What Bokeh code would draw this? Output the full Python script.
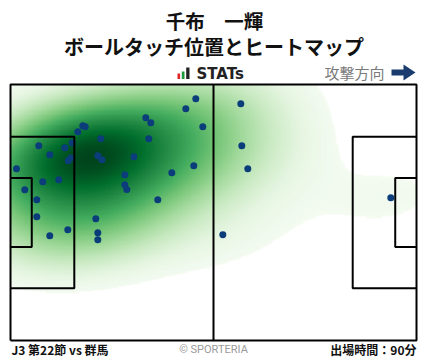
import numpy as np
from bokeh.plotting import figure
from bokeh.models import Range1d, LinearColorMapper
from bokeh.palettes import Greens256
from bokeh.embed import file_html
from bokeh.resources import INLINE
from bokeh.core.properties import value

# ---- data: ball touch positions (metres; x toward attacking direction, y from bottom touchline)
touch_x = [47.92, 45.34, 49.73, 34.99, 36.28, 35.77, 18.70, 19.32, 17.41, 23.35,
           7.32, 10.16, 14.04, 15.96, 15.59, 14.92, 22.58, 23.66, 31.89, 1.55,
           8.35, 12.49, 29.56, 29.56, 30.08, 41.72, 47.40, 3.70, 6.80, 38.09,
           6.80, 10.16, 14.82, 22.06, 22.58, 22.58, 59.56, 59.82, 61.37, 98.35,
           54.91]
touch_y = [64.20, 61.55, 56.77, 59.16, 57.83, 53.58, 57.03, 56.76, 55.44, 53.58,
           51.72, 49.33, 51.19, 52.51, 48.48, 47.76, 49.09, 48.00, 48.80, 45.61,
           42.15, 42.71, 44.04, 41.38, 40.14, 44.55, 46.40, 40.03, 37.37, 37.37,
           32.86, 27.81, 29.40, 32.33, 28.61, 26.75, 62.87, 51.72, 45.61, 37.91,
           28.08]

title_lines = ["千布　一輝", "ボールタッチ位置とヒートマップ"]
footer_left = "J3 第22節 vs 群馬"
footer_center = "© SPORTERIA"
footer_right = "出場時間：90分"
direction_label = "攻撃方向"
logo_label = "STATs"

PITCH_L, PITCH_W = 105.0, 68.0

# ---- layout helpers (page pixels -> data units)
SX = 406 / PITCH_L
SY = 256 / PITCH_W
def dx(px):
    return (px - 10) / SX
def dy(py):
    return (340 - py) / SY

W, H = 428, 359
p = figure(width=W, height=H, output_backend="svg", toolbar_location=None,
           x_range=Range1d(dx(0), dx(W)), y_range=Range1d(dy(H), dy(0)),
           x_axis_location=None, y_axis_location=None, min_border=0)
p.grid.visible = False
p.outline_line_color = None
p.background_fill_color = "white"

# ---- KDE heatmap (gaussian, Scott's rule, full covariance)
pts = np.vstack([touch_x, touch_y])
n = pts.shape[1]
factor = n ** (-1.0 / 6.0)
cov = np.cov(pts) * factor ** 2
scale = np.diag([1.41, 1.55])
cov = scale @ cov @ scale
inv = np.linalg.inv(cov)
gx = np.linspace(0, PITCH_L, 316)
gy = np.linspace(0, PITCH_W, 205)
GX, GY = np.meshgrid(gx, gy)
dens = np.zeros_like(GX)
for xi, yi in zip(touch_x, touch_y):
    ddx = GX - xi
    ddy = GY - yi
    q = inv[0, 0] * ddx * ddx + 2 * inv[0, 1] * ddx * ddy + inv[1, 1] * ddy * ddy
    dens += np.exp(-0.5 * q)
dens = dens / dens.max()
thr = 0.05
dens_img = np.where(dens < thr, np.nan, dens ** 0.8)
pal = list(reversed(Greens256))[6:]
mapper = LinearColorMapper(palette=pal, low=thr ** 0.8, high=1.0, nan_color="rgba(255,255,255,0)")
p.image(image=[dens_img], x=0, y=0, dw=PITCH_L, dh=PITCH_W, color_mapper=mapper)

# ---- touch points
p.scatter(touch_x, touch_y, size=7, fill_color="#0b3d7a", line_color=None)

# ---- pitch lines
lc, lw = "black", 2
p.line([0, PITCH_L, PITCH_L, 0, 0], [0, 0, PITCH_W, PITCH_W, 0], line_color=lc, line_width=lw)
p.line([PITCH_L / 2, PITCH_L / 2], [0, PITCH_W], line_color=lc, line_width=lw)
pb_d, pb_w = 16.5, 40.3
ga_d, ga_w = 5.5, 18.3
cy = PITCH_W / 2
for depth, width in [(pb_d, pb_w), (ga_d, ga_w)]:
    p.line([0, depth, depth, 0], [cy - width / 2, cy - width / 2, cy + width / 2, cy + width / 2],
           line_color=lc, line_width=lw)
    p.line([PITCH_L, PITCH_L - depth, PITCH_L - depth, PITCH_L],
           [cy - width / 2, cy - width / 2, cy + width / 2, cy + width / 2],
           line_color=lc, line_width=lw)

# ---- titles
jp = value("Noto Sans CJK JP")
p.text(x=[dx(214)], y=[dy(20)], text=[title_lines[0]], text_font=jp, text_font_style="bold",
       text_font_size="19.5px", text_align="center", text_baseline="middle", text_color="#111111")
p.text(x=[dx(213.5)], y=[dy(46)], text=[title_lines[1]], text_font=jp, text_font_style="bold",
       text_font_size="20px", text_align="center", text_baseline="middle", text_color="#111111")

# STATs logo
p.quad(left=[dx(177), dx(181.3), dx(185.7)], right=[dx(179.6), dx(184), dx(189)],
       bottom=[dy(78.5), dy(78.5), dy(78.5)], top=[dy(73), dy(71), dy(67)],
       fill_color=["#e0262b", "#1f9a3a", "#222222"], line_color=None)
p.text(x=[dx(196)], y=[dy(73.5)], text=[logo_label], text_font=value("DejaVu Sans"), text_font_style="bold",
       text_font_size="15px", text_align="left", text_baseline="middle", text_color="#222222")

# attack direction
p.text(x=[dx(384)], y=[dy(72)], text=[direction_label], text_font=jp,
       text_font_size="15px", text_align="right", text_baseline="middle", text_color="#7a7a7a")
p.patch(x=[dx(391), dx(403), dx(403), dx(415), dx(403), dx(403), dx(391)],
        y=[dy(69), dy(69), dy(64), dy(72), dy(80), dy(75), dy(75)],
        fill_color="#1b3c6e", line_color=None)

# footer
p.text(x=[dx(11)], y=[dy(349)], text=[footer_left], text_font=jp, text_font_style="bold",
       text_font_size="12px", text_align="left", text_baseline="middle", text_color="#111111")
p.text(x=[dx(213)], y=[dy(349)], text=[footer_center], text_font=value("Roboto"),
       text_font_size="11px", text_align="center", text_baseline="middle", text_color="#9a9a9a")
p.text(x=[dx(416)], y=[dy(349)], text=[footer_right], text_font=jp, text_font_style="bold",
       text_font_size="12px", text_align="right", text_baseline="middle", text_color="#111111")

open("out.html", "w").write(file_html(p, INLINE))
